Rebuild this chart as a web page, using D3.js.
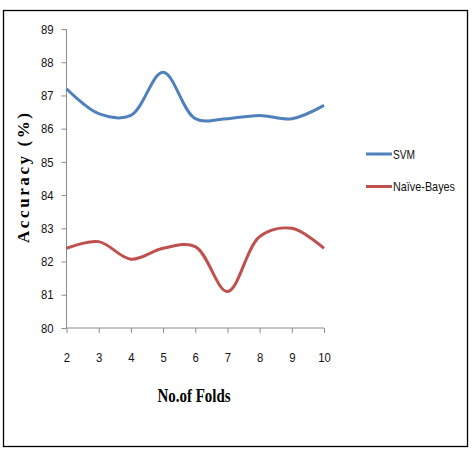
<!DOCTYPE html>
<html><head>
<meta charset="UTF-8">
<title>Accuracy vs No. of Folds</title>
<script src="https://d3js.org/d3.v7.min.js"></script>
<style>
  body { margin: 0; background: white; }
  .tick text { font-family: "Liberation Sans Narrow", "Arial Narrow", "Liberation Sans", sans-serif; font-size: 13px; fill: #111; }
  .axis path, .axis line { stroke: #8c8c8c; }
  .line { fill: none; stroke-width: 3px; }
</style>
</head>
<body>
<script type="text/javascript">

// data
var folds = [2, 3, 4, 5, 6, 7, 8, 9, 10];
var svmAcc = [87.2, 86.45, 86.4, 87.7, 86.3, 86.3, 86.4, 86.3, 86.7];
var nbAcc = [82.4, 82.6, 82.07, 82.4, 82.45, 81.1, 82.75, 83.0, 82.4];
var yTicks = [80, 81, 82, 83, 84, 85, 86, 87, 88, 89];
var seriesNames = ["SVM", "Naïve-Bayes"];
var seriesColors = ["#4f81bd", "#c0504d"];

var width = 473, height = 460;
var plot = {left: 66.5, right: 324, top: 29, bottom: 328};

var svg = d3.select("body").append("svg")
    .attr("width", width)
    .attr("height", height);

// outer frame
svg.append("rect")
    .attr("x", 3.5).attr("y", 10.5)
    .attr("width", 464).attr("height", 436)
    .attr("fill", "white")
    .attr("stroke", "black")
    .attr("stroke-width", 1.3);

var xScale = d3.scaleLinear().domain([2, 10]).range([plot.left, plot.right]);
var yScale = d3.scaleLinear().domain([80, 89]).range([plot.bottom, plot.top]);

var xAxis = d3.axisBottom(xScale).tickValues(folds).tickSize(5).tickPadding(20).tickFormat(d3.format("d"));
var yAxis = d3.axisLeft(yScale).tickValues(yTicks).tickSize(5).tickPadding(8);

// narrow look for the tick labels (no condensed font installed)
function narrow(g) {
  g.selectAll(".tick text")
    .attr("textLength", function(d){ return String(d).length * 6.3; })
    .attr("lengthAdjust", "spacingAndGlyphs");
}

svg.append("g").attr("class", "axis")
    .attr("transform", "translate(0," + plot.bottom + ")")
    .call(xAxis)
    .call(narrow)
    .call(function(g){ g.select(".domain").attr("d", "M" + plot.left + ",0H" + plot.right); });

svg.append("g").attr("class", "axis")
    .attr("transform", "translate(" + plot.left + ",0)")
    .call(yAxis)
    .call(narrow)
    .call(function(g){ g.select(".domain").attr("d", "M0," + plot.top + "V" + plot.bottom); });

// the lines
var valueline = d3.line()
    .x(function(d, i) { return xScale(folds[i]); })
    .y(function(d) { return yScale(d); })
    .curve(d3.curveCatmullRom.alpha(0.5));

[svmAcc, nbAcc].forEach(function(s, i){
  svg.append("path")
      .datum(s)
      .attr("class", "line")
      .attr("stroke", seriesColors[i])
      .attr("d", valueline);
});

// axis titles
svg.append("text")
    .attr("transform", "translate(29,178) rotate(-90)")
    .attr("text-anchor", "middle")
    .attr("font-family", "Liberation Serif, Times New Roman, serif")
    .attr("font-weight", "bold")
    .attr("font-size", 17)
    .attr("textLength", 130)
    .attr("lengthAdjust", "spacing")
    .text("Accuracy (%)");

svg.append("text")
    .attr("x", 194).attr("y", 402)
    .attr("text-anchor", "middle")
    .attr("font-family", "Liberation Serif, Times New Roman, serif")
    .attr("font-weight", "bold")
    .attr("font-size", 19)
    .attr("textLength", 73)
    .attr("lengthAdjust", "spacingAndGlyphs")
    .text("No.of Folds");

// legend
var legend = svg.append("g");
var legendWidths = [22, 62];
seriesNames.forEach(function(name, i){
  var ly = 154 + i * 32.5;
  legend.append("line")
      .attr("x1", 366).attr("x2", 392)
      .attr("y1", ly).attr("y2", ly)
      .attr("stroke", seriesColors[i])
      .attr("stroke-width", 3);
  legend.append("text")
      .attr("x", 393).attr("y", ly + 4.5)
      .attr("font-family", "Liberation Sans Narrow, Arial Narrow, Liberation Sans, sans-serif")
      .attr("font-size", 13)
      .attr("fill", "#111")
      .attr("textLength", legendWidths[i])
      .attr("lengthAdjust", "spacingAndGlyphs")
      .text(name);
});

</script>
</body>
</html>
